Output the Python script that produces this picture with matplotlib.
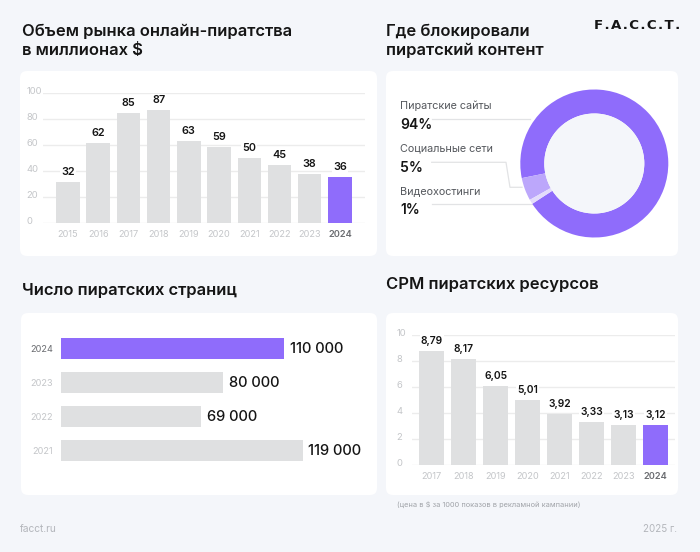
#!/usr/bin/env python3
import matplotlib
matplotlib.use("Agg")
import matplotlib.pyplot as plt
from matplotlib.patches import Circle, FancyBboxPatch
from matplotlib.transforms import ScaledTranslation

# ===== data =====
MARKET_YEARS = ["2015", "2016", "2017", "2018", "2019", "2020", "2021", "2022", "2023", "2024"]
MARKET_VALUES = [32, 62, 85, 87, 63, 59, 50, 45, 38, 36]
MARKET_TICKS = [0, 20, 40, 60, 80, 100]

DONUT_LABELS = ["Пиратские сайты", "Социальные сети", "Видеохостинги"]
DONUT_VALUES = [94, 5, 1]

PAGES_YEARS = ["2024", "2023", "2022", "2021"]
PAGES_VALUES = [110000, 80000, 69000, 119000]
PAGES_TEXT = ["110 000", "80 000", "69 000", "119 000"]

CPM_YEARS = ["2017", "2018", "2019", "2020", "2021", "2022", "2023", "2024"]
CPM_VALUES = [8.79, 8.17, 6.05, 5.01, 3.92, 3.33, 3.13, 3.12]
CPM_TEXT = ["8,79", "8,17", "6,05", "5,01", "3,92", "3,33", "3,13", "3,12"]
CPM_TICKS = [0, 2, 4, 6, 8, 10]

# ===== style =====
W, H = 700, 552
BG = "#f4f6fa"
GREY = "#dfe0e1"
PURPLE = "#8f6cfb"
DONUT_COLORS = [PURPLE, "#bca7fb", "#e3dcfb"]
GRID = "#ececec"
TICK = "#c4c6c9"
DARK = "#151515"

plt.rcParams["font.family"] = ["Inter", "DejaVu Sans"]

fig = plt.figure(figsize=(W / 100, H / 100), dpi=100, facecolor=BG)


def px(v):
    return v * 0.72


def make_axes(left, top, right, bottom, zorder=1):
    ax = fig.add_axes([left / W, 1 - bottom / H, (right - left) / W, (bottom - top) / H], zorder=zorder)
    ax.patch.set_alpha(0)
    for s in ax.spines.values():
        s.set_visible(False)
    return ax


def column_chart(ax, years, values, labels, yticks, ymax, x_left, x_right, width, tick_pad, label_size):
    colors = [GREY] * (len(values) - 1) + [PURPLE]
    ax.bar(range(len(values)), values, width=width, color=colors, zorder=2)
    ax.set_xlim(x_left, x_right)
    ax.set_ylim(0, ymax)
    ax.set_yticks(yticks)
    ax.set_xticks(range(len(years)), years)
    ax.grid(axis="y", color=GRID, lw=1, zorder=0)
    ax.set_axisbelow(True)
    ax.tick_params(axis="y", length=0, pad=px(tick_pad), labelsize=6.8, labelcolor=TICK)
    ax.tick_params(axis="x", length=0, pad=px(7), labelsize=6.6, labelcolor=TICK)
    up = ScaledTranslation(0, 3 / 100, fig.dpi_scale_trans)
    for lab in ax.get_yticklabels():
        lab.set_ha("left")
        lab.set_transform(lab.get_transform() + up)
    last = ax.get_xticklabels()[-1]
    last.set_color("#6a6c70")
    last.set_fontweight("semibold")
    for i, v in enumerate(values):
        ax.annotate(labels[i], (i, v), xytext=(0, px(10)), textcoords="offset points",
                    ha="center", va="center", fontsize=label_size, fontweight="semibold", color=DARK,
                    zorder=3, bbox=dict(fc="white", ec="none", pad=0.8))


# ===== background =====
bg = make_axes(0, 0, W, H, zorder=0)
bg.set_xlim(0, W)
bg.set_ylim(H, 0)
bg.axis("off")
for x0, y0, x1, y1 in [(20, 71, 377, 256), (386, 71, 678, 256), (21, 313, 377, 495), (386, 313, 678, 495)]:
    bg.add_patch(FancyBboxPatch((x0, y0), x1 - x0, y1 - y0, boxstyle="round,pad=0,rounding_size=7",
                                fc="white", ec="none"))

# titles
TITLE = dict(fontsize=11.95, fontweight="semibold", color=DARK, va="center", ha="left")
bg.text(21.5, 31.7, "Объем рынка онлайн-пиратства", **TITLE)
bg.text(21.5, 50, "в миллионах $", **TITLE)
bg.text(386, 31.7, "Где блокировали", **TITLE)
bg.text(386, 50, "пиратский контент", **TITLE)
bg.text(22, 290, "Число пиратских страниц", **TITLE)
bg.text(386, 284, "СРМ пиратских ресурсов", **TITLE)

# logo
bg.text(594, 25.5, "F\u200a.\u200aA\u200a.\u200aC\u200a.\u200aC\u200a.\u200aT\u200a.", family=["DejaVu Sans"],
        fontsize=9.6, fontweight="bold", color=DARK, va="center", ha="left")

# footer
bg.text(20, 529, "facct.ru", fontsize=7.3, color="#b3b6bb", va="center", ha="left")
bg.text(677, 529, "2025 г.", fontsize=7, color="#b3b6bb", va="center", ha="right")
bg.text(396.7, 504.3, "(цена в $ за 1000 показов в рекламной кампании)", fontsize=5.3,
        color="#a0a3a8", va="center", ha="left")

# ===== market columns =====
ax1 = make_axes(43, 93.3, 365, 223.3)
column_chart(ax1, MARKET_YEARS, MARKET_VALUES, [str(v) for v in MARKET_VALUES], MARKET_TICKS, 100,
             -0.828, 9.83, 0.78, 16.3, 7.8)

# ===== donut =====
ax2 = make_axes(594.3 - 75, 163.5 - 75, 594.3 + 75, 163.5 + 75)
ax2.pie(DONUT_VALUES, colors=DONUT_COLORS, startangle=213, radius=1, wedgeprops=dict(width=24 / 74))
ax2.add_patch(Circle((0, 0), 50 / 74, fc=BG, ec="none"))
ax2.set_xlim(-75 / 74, 75 / 74)
ax2.set_ylim(-75 / 74, 75 / 74)

# leader lines
LEADER = dict(color="#e2e3e5", lw=0.9, zorder=1)
bg.plot([431.7, 530], [119, 119], **LEADER)
bg.plot([431.7, 506, 510, 522], [162.3, 162.3, 187.3, 187.3], **LEADER)
bg.plot([431.7, 532], [204.3, 204.3], **LEADER)

for name, val, y_name, y_val in zip(DONUT_LABELS, DONUT_VALUES, [106, 148, 191.5], [124.7, 167.5, 210]):
    bg.text(400, y_name, name, fontsize=7.8, color="#55585d", va="center", ha="left")
    bg.text(400, y_val, f"{val}%", fontsize=10, fontweight="semibold", color=DARK, va="center", ha="left")

# ===== pages bars =====
ax3 = make_axes(61, 325, 370, 475)
pages_colors = [PURPLE, GREY, GREY, GREY]
ax3.barh(range(len(PAGES_VALUES)), PAGES_VALUES, height=0.62, color=pages_colors)
ax3.set_xlim(0, 152200)
ax3.set_ylim(3.72, -0.70)
ax3.set_xticks([])
ax3.set_yticks(range(len(PAGES_YEARS)), PAGES_YEARS)
ax3.tick_params(axis="y", length=0, pad=px(7.7), labelsize=6.6, labelcolor=TICK)
ax3.get_yticklabels()[0].set_color("#6a6c70")
for i, v in enumerate(PAGES_VALUES):
    ax3.annotate(PAGES_TEXT[i], (v, i), xytext=(px(5.6), 0), textcoords="offset points",
                 ha="left", va="center", fontsize=10.6, fontweight="medium", color=DARK)

# ===== CPM columns =====
ax4 = make_axes(411.7, 335, 675, 465.3)
column_chart(ax4, CPM_YEARS, CPM_VALUES, CPM_TEXT, CPM_TICKS, 10, -0.625, 7.6, 0.77, 15, 7.4)

fig.savefig("out.png", dpi=100, facecolor=BG)
